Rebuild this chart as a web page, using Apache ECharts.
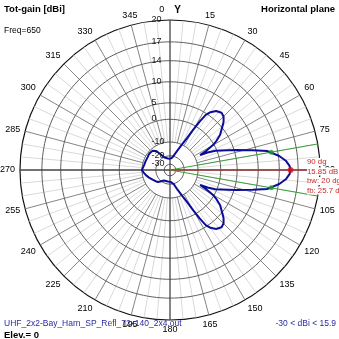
<!DOCTYPE html>
<html><head><meta charset="utf-8">
<script src="https://cdn.jsdelivr.net/npm/echarts@6/dist/echarts.min.js"></script>
<style>html,body{margin:0;padding:0;background:#fff}#c{width:339px;height:339px}</style>
</head><body><div id="c"></div>
<script>
// ---- data ----
const patternAngles = [0,5,10,15,20,25,28,30,31.5,33,35,38,42,45,48,50,55,58,60,62,63.5,65,67,69,73,76.5,79,82.7,85.6,88,90,
  92,94.4,97.3,101,103.5,107,111,113,115,116.5,118,120,122,125,130,132,135,138,142,145,147,148.5,150,152,155,160,165,170,175,
  180,190,200,210,218,225,232,240,250,258,265,270,276,282,290,300,306,312,318,324,330,336,342,350,360];
const patternGain = [-23,-23,-21.5,-19.5,-15.3,-10,-6,-1.5,2,4.6,5.9,7.0,7.5,7.2,6.3,5.4,3.3,1.3,-0.5,-3.5,-7,-3.5,-0.5,1.2,5.4,9.3,12.2,14.15,15.2,15.7,15.85,
  15.7,15.2,14.15,12.2,9.3,5.4,1.2,-0.5,-3.5,-7,-3.5,-0.5,1.3,3.3,5.4,6.3,7.2,7.5,7.0,5.9,4.6,2,-1.5,-6,-10,-15.3,-19.5,-21.5,-22,
  -22,-22.5,-23,-22,-20,-17.5,-16.5,-15.5,-13.5,-12,-10.8,-9.9,-10.6,-11,-11.2,-11.3,-11,-11,-11.2,-12.8,-17,-20.5,-21.5,-22.5,-23];
const ringValues = [20,17,14,10,5,0,-10,-20,-30];
const ringLabels = ['20','17','14','10','5','0','-10','-20','-30'];
const maxAngle = 90, maxGain = 15.85;
const bwAngles = [80,100], bwGain = 12.85;
const infoLines = ['90 dg','15.85 dB','bw: 20 dg','fb: 25.7 dB'];

// ---- radial scale (4nec2-like log scale) ----
function toR(db){ const g=Math.exp(-0.05*(20-db)); return Math.max(0,(g-0.045)/0.955); }

const FONT='"Liberation Sans", Arial, sans-serif';
const series=[];
let light=[]; for(let a=0;a<360;a+=5){ if(a%15) { light.push([toR(-10),a],[1,a],'-'); } }
series.push({type:'line',coordinateSystem:'polar',data:light,symbol:'none',silent:true,connectNulls:false,lineStyle:{color:'#d9d9d9',width:1},z:1});
let dark=[]; for(let a=0;a<360;a+=15){ if(a%90) dark.push([toR(-10),a],[1,a],'-'); }
series.push({type:'line',coordinateSystem:'polar',data:dark,symbol:'none',silent:true,connectNulls:false,lineStyle:{color:'#858585',width:1},z:2});
ringValues.forEach((v,i)=>{ if(i===0) return; const d=[]; for(let a=0;a<=360;a+=2) d.push([toR(v),a]);
  series.push({type:'line',coordinateSystem:'polar',data:d,symbol:'none',silent:true,lineStyle:{color:'#606060',width:1},z:3}); });
series.push({type:'line',coordinateSystem:'polar',data:[[1,0],[1,180],'-',[1,90],[1,270]],symbol:'none',silent:true,connectNulls:false,lineStyle:{color:'#454545',width:1.3},z:4});
series.push({type:'line',coordinateSystem:'polar',data:[[0,bwAngles[0]],[1,bwAngles[0]],'-',[0,bwAngles[1]],[1,bwAngles[1]]],symbol:'none',silent:true,connectNulls:false,lineStyle:{color:'#3aa03a',width:1},z:5});
series.push({type:'line',coordinateSystem:'polar',data:[[0,maxAngle],[1,maxAngle]],symbol:'none',silent:true,lineStyle:{color:'#c83232',width:1},z:5});
series.push({type:'line',coordinateSystem:'polar',data:patternAngles.map((a,i)=>[toR(patternGain[i]),a]),symbol:'none',smooth:false,lineStyle:{color:'#0c0c9a',width:2},z:6});
series.push({type:'scatter',coordinateSystem:'polar',data:bwAngles.map(a=>[toR(bwGain),a]),symbolSize:5,itemStyle:{color:'#1fa01f'},z:7});
series.push({type:'scatter',coordinateSystem:'polar',data:[[toR(maxGain),maxAngle]],symbolSize:6,itemStyle:{color:'#e01010'},z:7});
series.push({type:'scatter',coordinateSystem:'polar',data:ringValues.map((v,i)=>({value:[toR(v),0],name:ringLabels[i]})),
  symbolSize:1,itemStyle:{color:'rgba(0,0,0,0)'},z:8,
  label:{show:true,formatter:p=>p.name,position:[-18,0],align:'left',verticalAlign:'middle',color:'#1a1a1a',opacity:1,textBorderWidth:0,fontFamily:FONT,fontSize:9}});

const t=(x,y,text,o)=>Object.assign({type:'text',x:x,y:y,z:100,style:Object.assign({text:text,font:'8.5px '+FONT,fill:'#000',textAlign:'left',textVerticalAlign:'middle',align:'left',verticalAlign:'middle'},o||{})});
const graphic=[
  t(4,9,'Tot-gain [dBi]',{font:'bold 9.5px '+FONT}),
  t(335,9,'Horizontal plane',{font:'bold 9.5px '+FONT,textAlign:'right',align:'right'}),
  t(4,31,'Freq=650',{}),
  t(4,324,'UHF_2x2-Bay_Harn_SP_Refl_72x140_2x4.out',{fill:'#2a2aa0'}),
  t(4,335,'Elev.= 0',{font:'bold 9.5px '+FONT}),
  t(336,324,'-30 < dBi < 15.9',{fill:'#2a2aa0',textAlign:'right',align:'right'}),
];
infoLines.forEach((s,i)=>graphic.push(t(307,162+i*9.5,s,{fill:'#c82828',font:'7.8px '+FONT,backgroundColor:'#fff'})));

const chart=echarts.init(document.getElementById('c'),null,{renderer:'canvas'});
chart.setOption({
  animation:false,
  polar:{center:[170,170],radius:150},
  angleAxis:{type:'value',min:0,max:360,interval:15,startAngle:90,clockwise:true,
    axisLine:{show:true,lineStyle:{color:'#111',width:1.2}},axisTick:{show:false},splitLine:{show:false},
    axisLabel:{margin:5,color:'#000',fontFamily:FONT,fontSize:9,formatter:v=>v===360?'':(v===0?'0    {y|Y}':String(v)),
      rich:{y:{fontWeight:'bold',fontSize:10,fontFamily:FONT,color:'#000'}}}},
  radiusAxis:{type:'value',min:0,max:1,axisLine:{show:false},axisTick:{show:false},axisLabel:{show:false},splitLine:{show:false}},
  series:series,
  graphic:graphic
});
</script></body></html>
